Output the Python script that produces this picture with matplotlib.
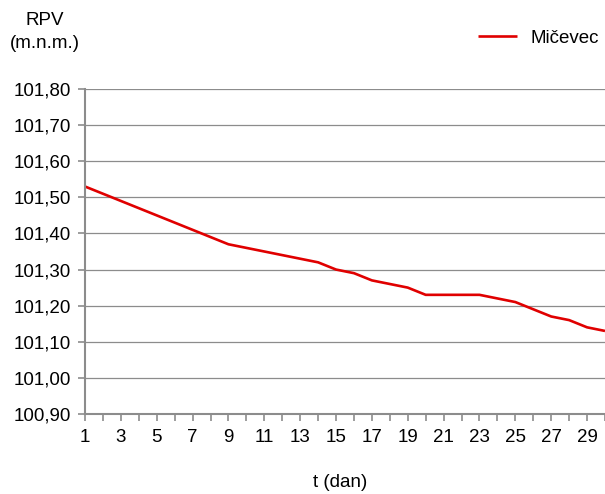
import numpy as np
import matplotlib.pyplot as plt
from matplotlib.ticker import FuncFormatter, MultipleLocator

plt.rcParams['font.family'] = ['Liberation Sans', 'DejaVu Sans']

# daily water level values
days = list(range(1, 31))
level = [101.53, 101.51, 101.49, 101.47, 101.45, 101.43, 101.41, 101.39, 101.37, 101.36,
         101.35, 101.34, 101.33, 101.32, 101.30, 101.29, 101.27, 101.26, 101.25, 101.23,
         101.23, 101.23, 101.23, 101.22, 101.21, 101.19, 101.17, 101.16, 101.14, 101.13]
series_name = 'Mičevec'
xlabels = list(range(1, 31, 2))

fs = 13.5
fig = plt.figure(figsize=(6.05, 4.94), dpi=100)
ax = fig.add_axes([85 / 605, 1 - 414 / 494, 1 - 85 / 605, (414 - 89) / 494])

grey = '#8c8c8c'
ax.plot(days, level, color='#e00000', lw=1.9, label=series_name, solid_capstyle='butt')

ax.set_ylim(100.90, 101.80)
ax.set_xlim(1, 29.85)
ax.yaxis.set_major_locator(MultipleLocator(0.1))
ax.yaxis.set_major_formatter(FuncFormatter(lambda v, p: f'{v:.2f}'.replace('.', ',')))
ax.set_xticks(days)
ax.set_xticklabels([str(d) if d in xlabels else '' for d in days])

ax.grid(axis='y', color=grey, lw=0.9)
ax.set_axisbelow(True)
for s in ['top', 'right']:
    ax.spines[s].set_visible(False)
for s in ['left', 'bottom']:
    ax.spines[s].set_color(grey)
    ax.spines[s].set_linewidth(1.5)
ax.tick_params(axis='both', direction='out', width=1.2, length=5, labelsize=fs)
ax.tick_params(axis='y', pad=5, colors=grey, labelcolor='black')
ax.tick_params(axis='x', pad=6, colors=grey, labelcolor='black')

fig.text(45 / 605, 1 - 32 / 494, 'RPV\n(m.n.m.)', ha='center', va='center', fontsize=fs,
         linespacing=1.45)
fig.text(340 / 605, 1 - 482 / 494, 't (dan)', ha='center', va='center', fontsize=fs)

fig.legend(loc='center left', bbox_to_anchor=(470 / 605, 1 - 38 / 494), frameon=False,
           fontsize=fs, handlelength=2.1, handletextpad=0.75, borderaxespad=0)

fig.savefig('out.png', dpi=100)
